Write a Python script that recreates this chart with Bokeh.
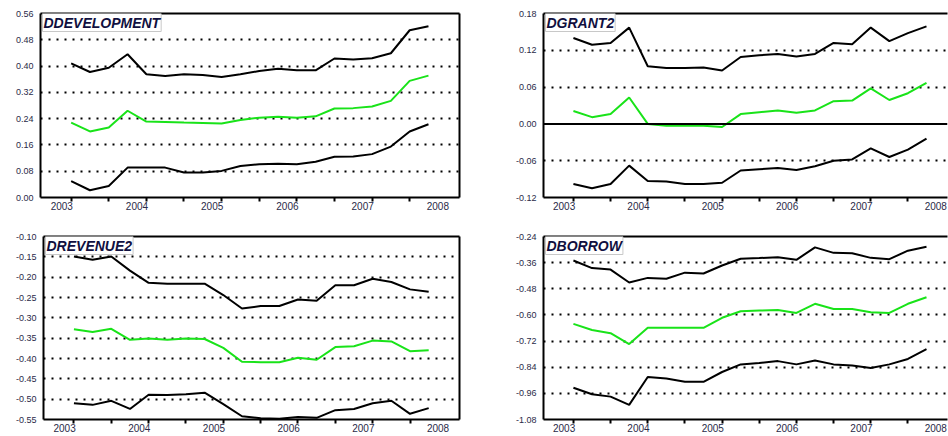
from bokeh.plotting import figure
from bokeh.layouts import column, row
from bokeh.models import Range1d, FixedTicker, PrintfTickFormatter, Span, Label, LinearAxis
from bokeh.embed import file_html
from bokeh.resources import INLINE

# Quarterly observations, 2003Q1 .. 2007Q4
quarters = [f"{y}Q{q}" for y in range(2003, 2008) for q in range(1, 5)]
year_labels = ["2003", "2004", "2005", "2006", "2007", "2008"]

# DDEVELOPMENT: forecast with upper / lower bands
dev_upper = [0.408, 0.382, 0.395, 0.436, 0.375, 0.370, 0.375, 0.373, 0.367, 0.375,
             0.385, 0.392, 0.387, 0.387, 0.423, 0.420, 0.424, 0.439, 0.509, 0.521]
dev_mid = [0.228, 0.201, 0.213, 0.264, 0.231, 0.230, 0.228, 0.227, 0.225, 0.236,
           0.243, 0.246, 0.243, 0.247, 0.271, 0.272, 0.277, 0.294, 0.355, 0.371]
dev_lower = [0.050, 0.022, 0.035, 0.091, 0.091, 0.091, 0.076, 0.076, 0.081, 0.096,
             0.101, 0.103, 0.101, 0.109, 0.124, 0.125, 0.132, 0.155, 0.201, 0.223]

# DGRANT2
grant_upper = [0.140, 0.129, 0.132, 0.157, 0.094, 0.091, 0.091, 0.092, 0.087, 0.109,
               0.112, 0.114, 0.110, 0.114, 0.132, 0.130, 0.157, 0.135, 0.148, 0.159]
grant_mid = [0.021, 0.011, 0.016, 0.043, 0.000, -0.003, -0.003, -0.003, -0.005, 0.016,
             0.019, 0.022, 0.018, 0.022, 0.037, 0.038, 0.058, 0.039, 0.050, 0.067]
grant_lower = [-0.098, -0.105, -0.098, -0.068, -0.093, -0.094, -0.098, -0.098, -0.096, -0.076,
               -0.074, -0.072, -0.075, -0.069, -0.060, -0.058, -0.040, -0.054, -0.042, -0.024]

# DREVENUE2
rev_upper = [-0.149, -0.157, -0.149, -0.184, -0.214, -0.216, -0.216, -0.216, -0.244, -0.277,
             -0.271, -0.271, -0.255, -0.258, -0.220, -0.220, -0.204, -0.212, -0.230, -0.236]
rev_mid = [-0.328, -0.335, -0.327, -0.354, -0.351, -0.354, -0.351, -0.352, -0.374, -0.408,
           -0.409, -0.409, -0.398, -0.403, -0.372, -0.370, -0.356, -0.358, -0.382, -0.380]
rev_lower = [-0.510, -0.514, -0.504, -0.524, -0.489, -0.490, -0.488, -0.484, -0.512, -0.542,
             -0.547, -0.548, -0.544, -0.546, -0.527, -0.524, -0.510, -0.504, -0.536, -0.522]

# DBORROW
bor_upper = [-0.350, -0.385, -0.392, -0.451, -0.430, -0.434, -0.406, -0.410, -0.373, -0.342,
             -0.339, -0.335, -0.347, -0.290, -0.315, -0.317, -0.338, -0.344, -0.305, -0.287]
bor_mid = [-0.641, -0.669, -0.684, -0.734, -0.659, -0.659, -0.659, -0.659, -0.613, -0.583,
           -0.580, -0.577, -0.591, -0.549, -0.573, -0.573, -0.588, -0.591, -0.549, -0.519]
bor_lower = [-0.934, -0.964, -0.975, -1.013, -0.885, -0.892, -0.907, -0.907, -0.862, -0.827,
             -0.821, -0.812, -0.827, -0.809, -0.827, -0.832, -0.844, -0.827, -0.802, -0.757]

# y-axis tick values per panel
dev_ticks = [0.00, 0.08, 0.16, 0.24, 0.32, 0.40, 0.48, 0.56]
grant_ticks = [-0.12, -0.06, 0.00, 0.06, 0.12, 0.18]
rev_ticks = [-0.55, -0.50, -0.45, -0.40, -0.35, -0.30, -0.25, -0.20, -0.15, -0.10]
bor_ticks = [-1.08, -0.96, -0.84, -0.72, -0.60, -0.48, -0.36, -0.24]

GREEN = "#19e319"
LABEL_COLOR = "#2a2a48"
FONT = "Liberation Sans"


def blank_axis():
    """An axis that draws only its line (used for frame edges)."""
    return LinearAxis(ticker=FixedTicker(ticks=[]), major_tick_out=0, major_tick_in=0,
                      minor_tick_out=0, minor_tick_in=0, major_label_standoff=0,
                      axis_line_color="black", axis_line_width=2)


def panel(title, upper, mid, lower, yticks, x_range, width, height,
          left, right, top, bottom, zero_line=False, open_right=False):
    x = list(range(len(quarters)))
    p = figure(width=width, height=height, output_backend="svg", toolbar_location=None,
               x_range=Range1d(*x_range), y_range=Range1d(yticks[0], yticks[-1]),
               min_border_left=left, min_border_right=right,
               min_border_top=top, min_border_bottom=bottom)
    p.background_fill_color = "white"
    p.border_fill_color = "white"
    p.outline_line_color = None

    # dotted horizontal grid at inner ticks, solid line at zero
    inner = [t for t in yticks[1:-1] if not (zero_line and abs(t) < 1e-9)]
    p.xgrid.visible = False
    p.ygrid.ticker = FixedTicker(ticks=inner)
    p.ygrid.grid_line_color = "black"
    p.ygrid.grid_line_width = 2
    p.ygrid.grid_line_dash = "2 6"
    if zero_line:
        p.add_layout(Span(location=0, dimension="width", line_color="black", line_width=2))

    # y axis: frame line plus labels
    ya = p.yaxis[0]
    ya.ticker = FixedTicker(ticks=yticks)
    ya.formatter = PrintfTickFormatter(format="%.2f")
    ya.axis_line_color = "black"
    ya.axis_line_width = 2
    ya.major_tick_out = 0
    ya.major_tick_in = 0
    ya.minor_tick_out = 0
    ya.minor_tick_in = 0
    ya.major_label_standoff = 7
    ya.major_label_text_font = FONT
    ya.major_label_text_font_size = "9px"
    ya.major_label_text_color = LABEL_COLOR

    # x axis: frame line with small ticks every half year (no labels)
    xa = p.xaxis[0]
    xa.ticker = FixedTicker(ticks=[], minor_ticks=list(range(0, len(quarters), 2)))
    xa.axis_line_color = "black"
    xa.axis_line_width = 2
    xa.major_tick_out = 0
    xa.major_tick_in = 0
    xa.minor_tick_out = 4
    xa.minor_tick_in = 0
    xa.minor_tick_line_color = "black"
    xa.minor_tick_line_width = 2
    xa.major_label_standoff = 0

    # second axis below carries the year labels, centred on year boundaries
    year_pos = [4 * k - 0.5 for k in range(len(year_labels))]
    lab_axis = LinearAxis(ticker=FixedTicker(ticks=year_pos),
                          major_label_overrides={pos: lab for pos, lab in zip(year_pos, year_labels)},
                          axis_line_color=None, major_tick_out=0, major_tick_in=0,
                          minor_tick_out=0, minor_tick_in=0, major_label_standoff=0,
                          major_label_text_font=FONT, major_label_text_font_size="10px",
                          major_label_text_color=LABEL_COLOR)
    p.add_layout(lab_axis, "below")

    # top edge, and right edge unless the panel runs off the page
    p.add_layout(blank_axis(), "above")
    if not open_right:
        p.add_layout(blank_axis(), "right")

    p.line(x, upper, line_color="black", line_width=2)
    p.line(x, lower, line_color="black", line_width=2)
    p.line(x, mid, line_color=GREEN, line_width=2)

    p.add_layout(Label(x=x_range[0], y=yticks[-1], x_offset=2, y_offset=0, text=title,
                       text_font=FONT, text_font_style="bold italic", text_font_size="14px",
                       text_color="#101040", text_baseline="top", text_align="left",
                       background_fill_color="white", border_line_color="#c8c8c8",
                       padding=1))
    return p


LEFT_X = (-1.63, 20.65)
RIGHT_X = (-1.61, 20.13)

p1 = panel("DDEVELOPMENT", dev_upper, dev_mid, dev_lower, dev_ticks, LEFT_X,
           470, 215, 40, 11, 13, 18)
p2 = panel("DGRANT2", grant_upper, grant_mid, grant_lower, grant_ticks, RIGHT_X,
           478, 215, 73, 1, 12, 18, zero_line=True, open_right=True)
p3 = panel("DREVENUE2", rev_upper, rev_mid, rev_lower, rev_ticks, LEFT_X,
           470, 221, 43, 11, 21, 17)
p4 = panel("DBORROW", bor_upper, bor_mid, bor_lower, bor_ticks, RIGHT_X,
           478, 221, 73, 1, 21, 17, open_right=True)

layout = column(row(p1, p2), row(p3, p4))

with open("out.html", "w") as f:
    f.write(file_html(layout, INLINE))
